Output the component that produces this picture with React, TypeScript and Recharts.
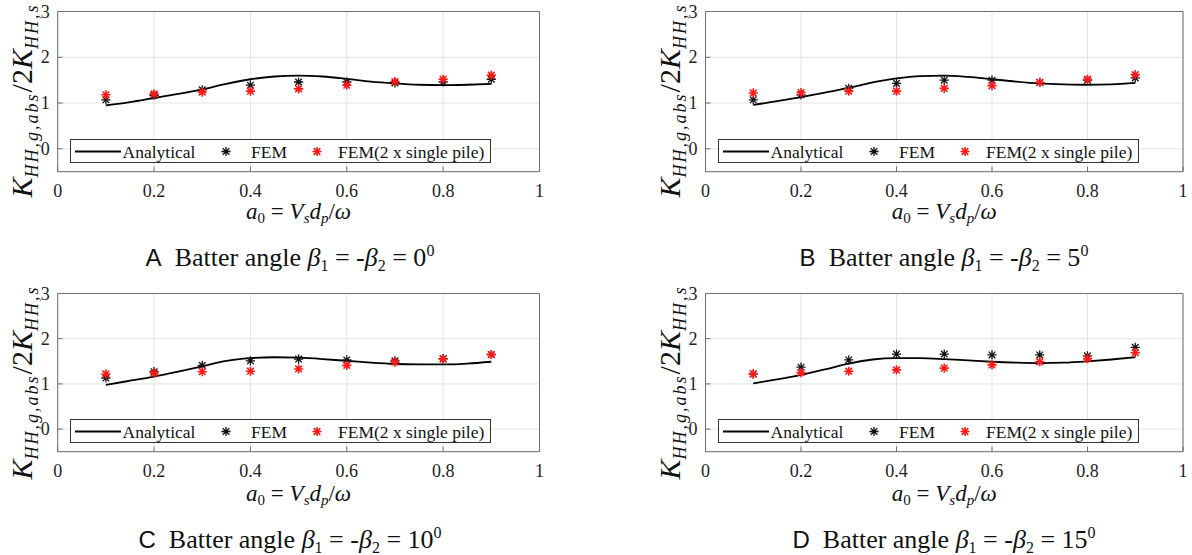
import React from "react";
import {
  ComposedChart, Line, Scatter, XAxis, YAxis, CartesianGrid, ReferenceArea, Legend,
} from "recharts";

// ---------------------------------------------------------------------------
// DATA
// ---------------------------------------------------------------------------

const xTicks = [0, 0.2, 0.4, 0.6, 0.8, 1];
const yTicks = [0, 1, 2, 3];

// analytical curve
const analyticX = [0.1, 0.15, 0.2, 0.25, 0.3, 0.35, 0.4, 0.45, 0.5, 0.55, 0.6, 0.65, 0.7, 0.75, 0.8, 0.85, 0.9];
const analyticA = [0.95, 1.02, 1.11, 1.2, 1.3, 1.42, 1.52, 1.58, 1.6, 1.58, 1.53, 1.47, 1.43, 1.4, 1.39, 1.4, 1.42];
const analyticB = [0.96, 1.04, 1.13, 1.23, 1.33, 1.45, 1.54, 1.59, 1.6, 1.57, 1.52, 1.47, 1.43, 1.41, 1.4, 1.41, 1.44];
const analyticC = [0.98, 1.07, 1.16, 1.27, 1.39, 1.51, 1.57, 1.59, 1.58, 1.55, 1.51, 1.47, 1.44, 1.43, 1.43, 1.45, 1.49];
const analyticD = [1.01, 1.1, 1.2, 1.32, 1.45, 1.54, 1.57, 1.57, 1.55, 1.52, 1.49, 1.47, 1.46, 1.47, 1.5, 1.54, 1.59];

// FEM points (black) and FEM(2 x single pile) points (red)
const femX = [0.1, 0.2, 0.3, 0.4, 0.5, 0.6, 0.7, 0.8, 0.9];
const femA = [1.07, 1.17, 1.29, 1.39, 1.46, 1.46, 1.44, 1.46, 1.52];
const pileA = [1.18, 1.2, 1.24, 1.26, 1.31, 1.39, 1.47, 1.52, 1.61];
const femB = [1.07, 1.18, 1.32, 1.43, 1.5, 1.5, 1.45, 1.5, 1.55];
const pileB = [1.22, 1.23, 1.26, 1.26, 1.32, 1.38, 1.45, 1.52, 1.62];
const femC = [1.13, 1.27, 1.41, 1.51, 1.55, 1.53, 1.51, 1.56, 1.65];
const pileC = [1.22, 1.24, 1.27, 1.28, 1.33, 1.41, 1.48, 1.55, 1.65];
const femD = [1.22, 1.37, 1.53, 1.66, 1.66, 1.64, 1.64, 1.62, 1.81];
const pileD = [1.22, 1.25, 1.28, 1.31, 1.35, 1.42, 1.49, 1.56, 1.69];

const letters = ["A", "B", "C", "D"];
const angles = ["0", "5", "10", "15"];

// ---------------------------------------------------------------------------
// STYLE / LAYOUT
// ---------------------------------------------------------------------------

const SERIF = { fontFamily: "'Liberation Serif', 'DejaVu Serif', serif" };
const SANS = { fontFamily: "'Liberation Sans', 'DejaVu Sans', sans-serif" };
const AXIS = "#6f6f6f";
const GRID = "#e4e4e4";
const RED = "#ff1a1a";

const PANEL_W = 596;
const PANEL_H = 273;
const Y_AXIS_W = 40;
const X_AXIS_H = 30;

const panels = [
  { left: 0, top: 0, plot: { x: 57.7, y: 11.5, w: 481.8, h: 160.2 }, cap: 290 },
  { left: 596, top: 0, plot: { x: 109.5, y: 11.5, w: 477.5, h: 160.2 }, cap: 348 },
  { left: 0, top: 282, plot: { x: 57.7, y: 11.5, w: 481.8, h: 158.2 }, cap: 290 },
  { left: 596, top: 282, plot: { x: 109.5, y: 11.5, w: 477.5, h: 158.2 }, cap: 348 },
];

const seriesSets = [
  { analytic: analyticA, fem: femA, pile: pileA },
  { analytic: analyticB, fem: femB, pile: pileB },
  { analytic: analyticC, fem: femC, pile: pileC },
  { analytic: analyticD, fem: femD, pile: pileD },
];

// ---------------------------------------------------------------------------
// PIECES
// ---------------------------------------------------------------------------

function Asterisk({ cx, cy, color, r = 4.6, sw = 1.3 }: any) {
  if (cx == null || cy == null) return null;
  const d = r * 0.72;
  const path =
    `M${cx - r},${cy}H${cx + r}M${cx},${cy - r}V${cy + r}` +
    `M${cx - d},${cy - d}L${cx + d},${cy + d}M${cx - d},${cy + d}L${cx + d},${cy - d}`;
  return <path d={path} stroke={color} strokeWidth={sw} fill="none" />;
}

function BottomTick({ x, y, payload }: any) {
  return (
    <g>
      <line x1={x} x2={x} y1={y} y2={y - 5} stroke={AXIS} />
      <text x={x} y={y + 25} textAnchor="middle" style={{ ...SERIF, fontSize: 18 }} fill="#222">
        {String(payload.value)}
      </text>
    </g>
  );
}

function TopTick({ x, y }: any) {
  return <line x1={x} x2={x} y1={y} y2={y + 5} stroke={AXIS} />;
}

function LeftTick({ x, y, payload }: any) {
  return (
    <g>
      <line x1={x} x2={x + 5} y1={y} y2={y} stroke={AXIS} />
      <text x={x - 8} y={y + 6} textAnchor="end" style={{ ...SERIF, fontSize: 18 }} fill="#222">
        {String(payload.value)}
      </text>
    </g>
  );
}

function RightTick({ x, y }: any) {
  return <line x1={x} x2={x - 5} y1={y} y2={y} stroke={AXIS} />;
}

function LegendBox() {
  const t = { ...SERIF, fontSize: 17.5 };
  return (
    <div style={{ width: 421, height: 24, border: "1px solid #333", background: "#fff", boxSizing: "border-box" }}>
      <svg width={421} height={24} style={{ display: "block" }}>
        <line x1={4} x2={50} y1={11.5} y2={11.5} stroke="#000" strokeWidth={1.8} />
        <text x={51.5} y={17.5} style={t} fill="#111">Analytical</text>
        <Asterisk cx={155} cy={11.5} color="#111" />
        <text x={180} y={17.5} style={t} fill="#111">FEM</text>
        <Asterisk cx={246} cy={11.5} color={RED} sw={1.6} />
        <text x={267} y={17.5} style={t} fill="#111">FEM(2 x single pile)</text>
      </svg>
    </div>
  );
}

function YLabel({ plot }: any) {
  const bx = plot.x - 26;
  const cy = plot.y + 89;
  const sub = { fontSize: 18 };
  return (
    <text
      x={bx}
      y={cy}
      transform={`rotate(-90, ${bx}, ${cy})`}
      textAnchor="middle"
      style={{ ...SERIF, fontSize: 30 }}
      fill="#111"
    >
      <tspan fontStyle="italic">K</tspan>
      <tspan fontStyle="italic" style={sub} dy={6} letterSpacing={2}>HH,g,abs</tspan>
      <tspan dy={-6}>/2</tspan>
      <tspan fontStyle="italic">K</tspan>
      <tspan fontStyle="italic" style={sub} dy={6} letterSpacing={2}>HH,s</tspan>
    </text>
  );
}

function BottomLabels({ plot, cap, letter, angle }: any) {
  const mx = plot.x + plot.w / 2;
  const sub = { fontSize: 15 };
  const small = { fontSize: 16 };
  return (
    <g fill="#111">
      <text x={mx} y={219} textAnchor="middle" style={{ ...SERIF, fontSize: 23 }}>
        <tspan fontStyle="italic">a</tspan>
        <tspan style={sub} dy={4}>0</tspan>
        <tspan dy={-4}>{"\u00a0=\u00a0"}</tspan>
        <tspan fontStyle="italic">V</tspan>
        <tspan fontStyle="italic" style={sub} dy={4}>s</tspan>
        <tspan fontStyle="italic" dy={-4}>d</tspan>
        <tspan fontStyle="italic" style={sub} dy={4}>p</tspan>
        <tspan dy={-4}>/</tspan>
        <tspan fontStyle="italic">ω</tspan>
      </text>
      <text x={cap} y={266} textAnchor="middle" style={{ ...SERIF, fontSize: 26 }}>
        <tspan style={{ ...SANS, fontSize: 24 }}>{letter}</tspan>
        <tspan>{"\u00a0\u00a0Batter angle "}</tspan>
        <tspan fontStyle="italic">β</tspan>
        <tspan style={small} dy={5}>1</tspan>
        <tspan dy={-5}>{" = -"}</tspan>
        <tspan fontStyle="italic">β</tspan>
        <tspan style={small} dy={5}>2</tspan>
        <tspan dy={-5}>{" = " + angle}</tspan>
        <tspan style={small} dy={-10}>0</tspan>
      </text>
    </g>
  );
}

function Panel({ index }: { index: number }) {
  const p = panels[index];
  const s = seriesSets[index];
  const plot = p.plot;
  const curve = analyticX.map((x, i) => ({ x, y: s.analytic[i] }));
  const fem = femX.map((x, i) => ({ x, y: s.fem[i] }));
  const pile = femX.map((x, i) => ({ x, y: s.pile[i] }));
  const unit = plot.h / 3.5;

  return (
    <div style={{ position: "absolute", left: p.left, top: p.top, width: PANEL_W, height: PANEL_H }}>
      <ComposedChart
        width={PANEL_W}
        height={PANEL_H}
        margin={{
          top: plot.y - 2,
          left: plot.x - Y_AXIS_W,
          right: PANEL_W - plot.x - plot.w - 2,
          bottom: PANEL_H - plot.y - plot.h - X_AXIS_H,
        }}
      >
        <CartesianGrid stroke={GRID} />
        <XAxis
          type="number"
          dataKey="x"
          domain={[0, 1]}
          ticks={xTicks}
          height={X_AXIS_H}
          tickSize={0}
          tickMargin={0}
          axisLine={false}
          tickLine={false}
          tick={<BottomTick />}
          interval={0}
          label={() => <BottomLabels plot={plot} cap={p.cap} letter={letters[index]} angle={angles[index]} />}
        />
        <XAxis
          xAxisId="top"
          orientation="top"
          type="number"
          domain={[0, 1]}
          ticks={xTicks}
          height={2}
          tickSize={0}
          tickMargin={0}
          axisLine={false}
          tickLine={false}
          tick={<TopTick />}
          interval={0}
        />
        <YAxis
          type="number"
          dataKey="y"
          domain={[-0.5, 3]}
          ticks={yTicks}
          width={Y_AXIS_W}
          tickSize={0}
          tickMargin={0}
          axisLine={false}
          tickLine={false}
          tick={<LeftTick />}
          interval={0}
          label={() => <YLabel plot={plot} />}
        />
        <YAxis
          yAxisId="right"
          orientation="right"
          type="number"
          domain={[-0.5, 3]}
          ticks={yTicks}
          width={2}
          tickSize={0}
          tickMargin={0}
          axisLine={false}
          tickLine={false}
          tick={<RightTick />}
          interval={0}
        />
        <ReferenceArea x1={0} x2={1} y1={-0.5} y2={3} fill="none" stroke={AXIS} strokeWidth={1} ifOverflow="visible" />
        <Line
          data={curve}
          dataKey="y"
          type="monotone"
          stroke="#000"
          strokeWidth={1.8}
          dot={false}
          isAnimationActive={false}
        />
        <Scatter
          data={fem}
          dataKey="y"
          isAnimationActive={false}
          shape={(props: any) => <Asterisk cx={props.cx} cy={props.cy} color="#111" />}
        />
        <Scatter
          data={pile}
          dataKey="y"
          isAnimationActive={false}
          shape={(props: any) => <Asterisk cx={props.cx} cy={props.cy} color={RED} sw={1.6} />}
        />
        <Legend
          layout="horizontal"
          verticalAlign="middle"
          align="center"
          content={() => <LegendBox />}
          wrapperStyle={{
            left: plot.x + 12,
            top: plot.y + 3.3 * unit - 24,
            width: 421,
            height: 24,
          }}
        />
      </ComposedChart>
    </div>
  );
}

export default function App() {
  return (
    <div style={{ position: "absolute", left: 0, top: 0, width: 1192, height: 555, background: "#fff" }}>
      {[0, 1, 2, 3].map((i) => (
        <Panel key={i} index={i} />
      ))}
    </div>
  );
}
